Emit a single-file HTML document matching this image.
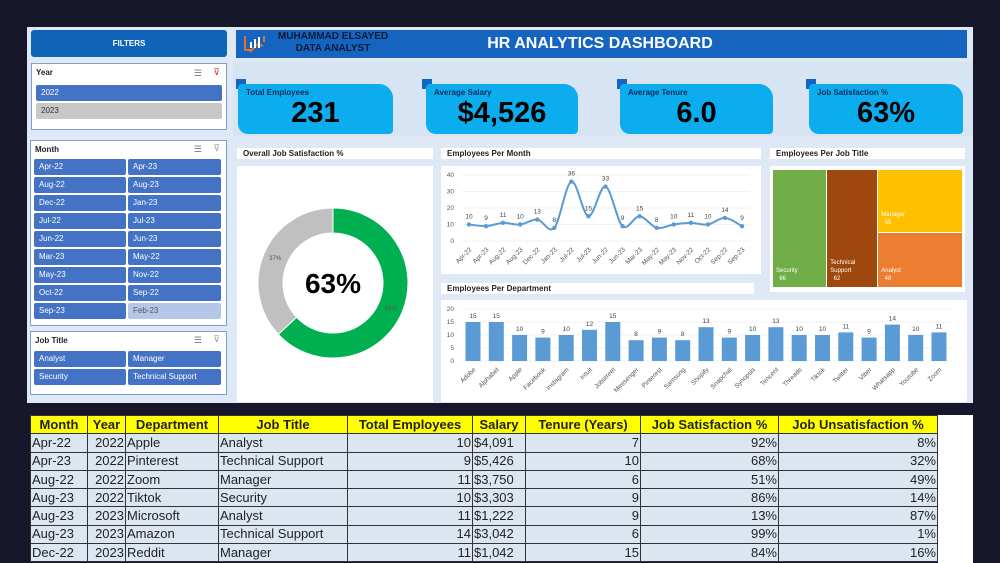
<!DOCTYPE html>
<html style="width:1000px;height:563px;overflow:hidden"><head><meta charset="utf-8">
<style>
*{box-sizing:border-box;margin:0;padding:0}
body{width:1000px;height:563px;background:#17172b;position:relative;overflow:hidden;font-family:"Liberation Sans",sans-serif}
.a{position:absolute}
.dash{left:27px;top:27px;width:946px;height:376px;background:#dfe9f5}
.btn{position:absolute;height:16px;font-size:8px;color:#fff;background:#4472c4;padding:3px 0 0 5px;border-radius:2px}
.slicer{position:absolute;background:#fff;border:1px solid #7f9fd0}
.sl-title{position:absolute;left:4px;top:4px;font-size:8px;font-weight:bold;color:#222}
.card{position:absolute;height:50px;background:#0cadee;border-radius:4px 14px 4px 10px}
.card .t{position:absolute;left:8px;top:4px;font-size:8px;font-weight:bold;color:#0b2a5a}
.card .v{position:absolute;left:0;right:0;top:13px;text-align:center;font-size:29px;font-weight:bold;color:#000}
.sq{position:absolute;width:10px;height:10px;background:#1565c0}
.ptitle{position:absolute;height:11px;background:#fff;font-size:8px;font-weight:bold;color:#222;padding:1px 0 0 6px}
.panel{position:absolute;background:#fff}
table{position:absolute;left:30px;top:415px;border-collapse:collapse;table-layout:fixed;width:907px;font-size:13px;color:#222}
td,th{border:1px solid #333;height:18.3px;line-height:16px;padding:0 1px;white-space:nowrap;overflow:hidden}
th{background:#ffff00;font-weight:bold}
td{background:#dce6f1}
.r{text-align:right}
</style></head><body>
<div class="a dash"></div>

<div class="a" style="left:31px;top:30px;width:196px;height:27px;background:#0f64b8;border-radius:3px;color:#fff;font-size:8px;font-weight:bold;text-align:center;line-height:27px">FILTERS</div>

<div class="slicer" style="left:31px;top:63px;width:196px;height:67px">
<div class="sl-title">Year</div>
<div class="a" style="right:24px;top:4px;font-size:9px;color:#777">☰</div><div class="a" style="right:6px;top:3px;font-size:9px;color:#c33">⊽</div>
<div class="btn" style="left:4px;top:21px;width:186px">2022</div>
<div class="btn" style="left:4px;top:39px;width:186px;background:#c8c8c8;color:#333">2023</div>
</div>

<div class="slicer" style="left:30px;top:140px;width:197px;height:186px">
<div class="sl-title">Month</div>
<div class="a" style="right:24px;top:3px;font-size:9px;color:#777">☰</div><div class="a" style="right:6px;top:2px;font-size:9px;color:#999">⊽</div>
<div id="months"></div>
</div>

<div class="slicer" style="left:30px;top:331px;width:197px;height:64px">
<div class="sl-title">Job Title</div>
<div class="a" style="right:24px;top:3px;font-size:9px;color:#777">☰</div><div class="a" style="right:6px;top:2px;font-size:9px;color:#999">⊽</div>
<div class="btn" style="left:3px;top:19px;width:92px">Analyst</div>
<div class="btn" style="left:97px;top:19px;width:93px">Manager</div>
<div class="btn" style="left:3px;top:37px;width:92px">Security</div>
<div class="btn" style="left:97px;top:37px;width:93px">Technical Support</div>
</div>

<div class="a" style="left:236px;top:30px;width:731px;height:28px;background:#1565c0"></div>
<svg class="a" style="left:242px;top:32px" width="26" height="24"><path d="M3 4v14h6M22 4v6" stroke="#e2722a" stroke-width="2" fill="none"/><path d="M8 20l8-8 5 2" stroke="#e2722a" stroke-width="2" fill="none"/><rect x="8" y="10" width="2" height="6" fill="#fff"/><rect x="12" y="7" width="2" height="9" fill="#fff"/><rect x="16" y="5" width="2" height="11" fill="#fff"/></svg>
<div class="a" style="left:270px;top:31px;width:126px;text-align:center;font-size:10px;font-weight:bold;color:#0a1a3a;line-height:12px">MUHAMMAD ELSAYED<br>DATA ANALYST</div>
<div class="a" style="left:420px;top:35px;width:360px;text-align:center;font-size:16px;font-weight:bold;color:#fff">HR ANALYTICS DASHBOARD</div>

<div class="a" style="left:233px;top:62px;width:740px;height:74px;background:#d6e4f3"></div>
<div class="sq" style="left:236px;top:79px"></div><div class="card" style="left:238px;top:84px;width:155px"><div class="t">Total Employees</div><div class="v">231</div></div>
<div class="sq" style="left:422px;top:79px"></div><div class="card" style="left:426px;top:84px;width:152px"><div class="t">Average Salary</div><div class="v">$4,526</div></div>
<div class="sq" style="left:617px;top:79px"></div><div class="card" style="left:620px;top:84px;width:153px"><div class="t">Average Tenure</div><div class="v">6.0</div></div>
<div class="sq" style="left:806px;top:79px"></div><div class="card" style="left:809px;top:84px;width:154px"><div class="t">Job Satisfaction %</div><div class="v">63%</div></div>

<div class="ptitle" style="left:237px;top:148px;width:196px">Overall Job Satisfaction %</div>
<div class="panel" style="left:237px;top:166px;width:196px;height:236px"></div>
<svg class="a" id="donut" style="left:237px;top:166px" width="196" height="236"></svg>

<div class="ptitle" style="left:441px;top:148px;width:320px">Employees Per Month</div>
<div class="panel" style="left:441px;top:166px;width:320px;height:108px"></div>
<svg class="a" id="line" style="left:0;top:0" width="1000" height="563"></svg>

<div class="ptitle" style="left:770px;top:148px;width:195px">Employees Per Job Title</div>
<div class="panel" style="left:770px;top:166px;width:195px;height:126px"></div>
<div id="tree"></div>

<div class="ptitle" style="left:441px;top:283px;width:313px">Employees Per Department</div>
<div class="panel" style="left:441px;top:300px;width:526px;height:102px"></div>
<svg class="a" id="bars" style="left:0;top:0" width="1000" height="563"></svg>

<div class="a" style="left:938px;top:415px;width:35px;height:148px;background:#fff"></div>
<table>
<colgroup><col style="width:57px"><col style="width:38px"><col style="width:93px"><col style="width:129px"><col style="width:125px"><col style="width:53px"><col style="width:115px"><col style="width:138px"><col style="width:159px"></colgroup>
<tr><th>Month</th><th>Year</th><th>Department</th><th>Job Title</th><th>Total Employees</th><th>Salary</th><th>Tenure (Years)</th><th>Job Satisfaction %</th><th>Job Unsatisfaction %</th></tr>
<tr><td>Apr-22</td><td class="r">2022</td><td>Apple</td><td>Analyst</td><td class="r">10</td><td>$4,091</td><td class="r">7</td><td class="r">92%</td><td class="r">8%</td></tr>
<tr><td>Apr-23</td><td class="r">2022</td><td>Pinterest</td><td>Technical Support</td><td class="r">9</td><td>$5,426</td><td class="r">10</td><td class="r">68%</td><td class="r">32%</td></tr>
<tr><td>Aug-22</td><td class="r">2022</td><td>Zoom</td><td>Manager</td><td class="r">11</td><td>$3,750</td><td class="r">6</td><td class="r">51%</td><td class="r">49%</td></tr>
<tr><td>Aug-23</td><td class="r">2022</td><td>Tiktok</td><td>Security</td><td class="r">10</td><td>$3,303</td><td class="r">9</td><td class="r">86%</td><td class="r">14%</td></tr>
<tr><td>Aug-23</td><td class="r">2023</td><td>Microsoft</td><td>Analyst</td><td class="r">11</td><td>$1,222</td><td class="r">9</td><td class="r">13%</td><td class="r">87%</td></tr>
<tr><td>Aug-23</td><td class="r">2023</td><td>Amazon</td><td>Technical Support</td><td class="r">14</td><td>$3,042</td><td class="r">6</td><td class="r">99%</td><td class="r">1%</td></tr>
<tr><td>Dec-22</td><td class="r">2023</td><td>Reddit</td><td>Manager</td><td class="r">11</td><td>$1,042</td><td class="r">15</td><td class="r">84%</td><td class="r">16%</td></tr>
</table>

<script>
const monthSlicer=["Apr-22","Apr-23","Aug-22","Aug-23","Dec-22","Jan-23","Jul-22","Jul-23","Jun-22","Jun-23","Mar-23","May-22","May-23","Nov-22","Oct-22","Sep-22","Sep-23","Feb-23"];
const lineCats=["Apr-22","Apr-23","Aug-22","Aug-23","Dec-22","Jan-23","Jul-22","Jul-23","Jun-22","Jun-23","Mar-23","May-22","May-23","Nov-22","Oct-22","Sep-22","Sep-23"];
const lineVals=[10,9,11,10,13,8,36,15,33,9,15,8,10,11,10,14,9];
const lineTicks=[0,10,20,30,40];
const depts=["Adobe","Alphabet","Apple","Facebook","Instagram","Intuit","Jobstreet","Messenger","Pinterest","Samsung","Shopify","Snapchat","Synopsis","Tencent","Threads","Tiktok","Twitter","Viber","Whatsapp","Youtube","Zoom"];
const deptVals=[15,15,10,9,10,12,15,8,9,8,13,9,10,13,10,10,11,9,14,10,11];
const barTicks=[0,5,10,15,20];
const jobTitles=["Security","Technical Support","Manager","Analyst"];
const jobVals=[66,62,55,48];
const satisfied=[63,37];
const NS="http://www.w3.org/2000/svg";
function mk(p,t,a){const e=document.createElementNS(NS,t);for(const k in a)e.setAttribute(k,a[k]);p.appendChild(e);return e;}

const mc=document.getElementById('months');
monthSlicer.forEach((m,i)=>{const d=document.createElement('div');d.className='btn';


d.style.left=(i%2?97:3)+'px';d.style.top=(18+Math.floor(i/2)*18)+'px';d.style.width=(i%2?93:92)+'px';
if(m==="Feb-23"){d.style.background='#b4c7e7';d.style.color='#555';}
d.textContent=m;mc.appendChild(d);});

(function(){const s=document.getElementById('donut');const cx=96,cy=117,R=75,r=50;const tot=satisfied[0]+satisfied[1];
let a0=0;const cols=['#00b050','#c0c0c0'];
satisfied.forEach((v,i)=>{const a1=a0+v/tot*2*Math.PI;const P=(rad,a)=>[cx+rad*Math.sin(a),cy-rad*Math.cos(a)];
const [x1,y1]=P(R,a0),[x2,y2]=P(R,a1),[x3,y3]=P(r,a1),[x4,y4]=P(r,a0);const lg=(a1-a0)>Math.PI?1:0;
const p=mk(s,'path',{d:`M${x1},${y1}A${R},${R} 0 ${lg} 1 ${x2},${y2}L${x3},${y3}A${r},${r} 0 ${lg} 0 ${x4},${y4}Z`,fill:cols[i],stroke:'#fff','stroke-width':1});


const [lx,ly]=P(63,(a0+a1)/2);const t=mk(s,'text',{x:lx,y:ly+2,'font-size':6,'text-anchor':'middle',fill:'#555'});t.textContent=v+'%';a0=a1;});
const t=mk(s,'text',{x:cx,y:cy+10,'font-size':28,'font-weight':'bold','text-anchor':'middle',fill:'#000'});t.textContent=satisfied[0]+'%';})();

(function(){const s=document.getElementById('line');const x0=469,x1=742,yb=241,yt=175;
const X=i=>x0+i*(x1-x0)/(lineCats.length-1),Y=v=>yb-(v/40)*(yb-yt);
lineTicks.forEach(t=>{mk(s,'line',{x1:462,x2:750,y1:Y(t),y2:Y(t),stroke:'#e4e4e4','stroke-width':0.6});const e=mk(s,'text',{x:454,y:Y(t)+2,'font-size':6.5,fill:'#555','text-anchor':'end'});e.textContent=t;});
let d='';const pts=lineVals.map((v,i)=>[X(i),Y(v)]);
pts.forEach((p,i)=>{if(!i){d='M'+p;return;}const a=pts[i-2]||pts[i-1],b=pts[i-1],c=p,e=pts[i+1]||p;
d+=`C${b[0]+(c[0]-a[0])/6},${b[1]+(c[1]-a[1])/6} ${c[0]-(e[0]-b[0])/6},${c[1]-(e[1]-b[1])/6} ${c[0]},${c[1]}`;});
const l=mk(s,'path',{d,fill:'none',stroke:'#5b9bd5','stroke-width':2});


pts.forEach((p,i)=>{const c=mk(s,'circle',{cx:p[0],cy:p[1],r:2.2,fill:'#5b9bd5'});


const t=mk(s,'text',{x:p[0],y:p[1]-6,'font-size':6.5,fill:'#444','text-anchor':'middle'});t.textContent=lineVals[i];
const lb=mk(s,'text',{x:p[0]+3,y:250,'font-size':6.5,fill:'#555','text-anchor':'end',transform:`rotate(-45 ${p[0]+3} 250)`});lb.textContent=lineCats[i];});})();

(function(){const c=document.getElementById('tree');const L=773,T=170,W=190,H=118;const tot=jobVals.reduce((a,b)=>a+b);
const cols=['#70ad47','#9e480e','#ffc000','#ed7d31'];
const w0=W*jobVals[0]/tot,w1=W*jobVals[1]/tot,w2=W-w0-w1;const h2=H*jobVals[2]/(jobVals[2]+jobVals[3]);
const rects=[[L,T,w0,H],[L+w0,T,w1,H],[L+w0+w1,T,w2,h2],[L+w0+w1,T+h2,w2,H-h2]];
rects.forEach((r,i)=>{const d=document.createElement('div');d.className='a';


d.style.cssText=`left:${r[0]}px;top:${r[1]}px;width:${r[2]-1}px;height:${r[3]-1}px;background:${cols[i]};font-size:6px;color:#fff`;
const lab=jobTitles[i]==="Technical Support"?"Technical<br>Support":jobTitles[i];
d.innerHTML=`<div style="position:absolute;left:3px;bottom:4px;line-height:8px">${lab}<br>&nbsp;&nbsp;${jobVals[i]}</div>`;
if(i==2)d.firstChild.style.bottom='5px';c.appendChild(d);});})();

(function(){const s=document.getElementById('bars');const x0=473,x1=939,yb=361,yt=309;
const X=i=>x0+i*(x1-x0)/(depts.length-1),Y=v=>yb-(v/20)*(yb-yt);
barTicks.forEach(t=>{mk(s,'line',{x1:462,x2:952,y1:Y(t),y2:Y(t),stroke:'#e4e4e4','stroke-width':0.6});const e=mk(s,'text',{x:454,y:Y(t)+2,'font-size':6.5,fill:'#555','text-anchor':'end'});e.textContent=t;});
deptVals.forEach((v,i)=>{const b=mk(s,'rect',{x:X(i)-7.5,y:Y(v),width:15,height:yb-Y(v),fill:'#5b9bd5'});


const t=mk(s,'text',{x:X(i),y:Y(v)-4,'font-size':6.5,fill:'#444','text-anchor':'middle'});t.textContent=v;
const lb=mk(s,'text',{x:X(i)+3,y:370,'font-size':6.5,fill:'#555','text-anchor':'end',transform:`rotate(-45 ${X(i)+3} 370)`});lb.textContent=depts[i];});})();
</script>
</body></html>
